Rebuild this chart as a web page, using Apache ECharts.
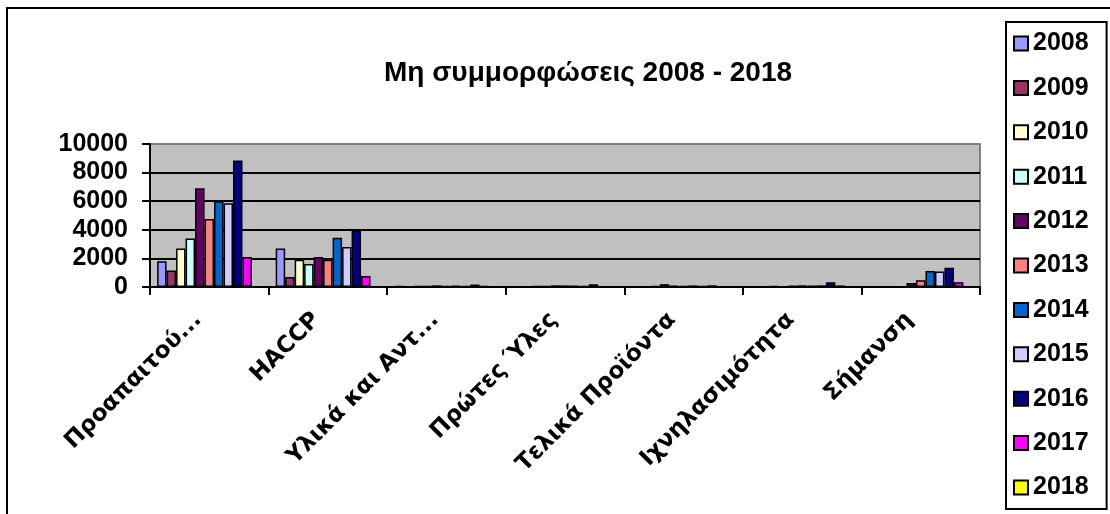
<!DOCTYPE html>
<html>
<head>
<meta charset="utf-8">
<script src="https://cdn.jsdelivr.net/npm/echarts@6/dist/echarts.min.js"></script>
<style>html,body{margin:0;padding:0;background:#fff;}#c{width:1110px;height:514px;}</style>
</head>
<body>
<div id="c"></div>
<script>
const titleText = 'Μη συμμορφώσεις 2008 - 2018';
const categories = ['Προαπαιτού...', 'HACCP', 'Υλικά και Αντ...', 'Πρώτες Ύλες', 'Τελικά Προϊόντα', 'Ιχνηλασιμότητα', 'Σήμανση'];
const years = ['2008','2009','2010','2011','2012','2013','2014','2015','2016','2017','2018'];
const v2008 = [1800, 2700, 60, 40, 50, 40, 0];
const v2009 = [1150, 700, 40, 30, 40, 50, 0];
const v2010 = [2700, 1900, 80, 60, 60, 60, 0];
const v2011 = [3400, 1600, 60, 80, 200, 50, 0];
const v2012 = [6900, 2100, 120, 120, 90, 100, 280];
const v2013 = [4750, 1900, 80, 110, 80, 120, 480];
const v2014 = [6000, 3450, 100, 100, 110, 90, 1120];
const v2015 = [5850, 2800, 80, 80, 70, 120, 1080];
const v2016 = [8850, 3950, 170, 190, 120, 330, 1350];
const v2017 = [2100, 770, 60, 50, 40, 110, 340];
const v2018 = [0, 0, 0, 0, 0, 0, 0];
const yTicks = [0, 2000, 4000, 6000, 8000, 10000];

const values = [v2008, v2009, v2010, v2011, v2012, v2013, v2014, v2015, v2016, v2017, v2018];
const colors = ['#9999FF','#993366','#FFFFCC','#CCFFFF','#660066','#FF8080','#0066CC','#CCCCFF','#000080','#FF00FF','#FFFF00'];
const FONT = "'Liberation Sans', Arial, sans-serif";
const FONT_X = "'DejaVu Sans', sans-serif";

const chart = echarts.init(document.getElementById('c'));
chart.setOption({
  animation: false,
  backgroundColor: '#ffffff',
  color: colors,
  graphic: [
    { type: 'rect', shape: { x: 7, y: 8, width: 1300, height: 700 }, style: { fill: 'none', stroke: '#000', lineWidth: 2 }, silent: true, z: 0 },
    { type: 'text', x: 588, y: 73, style: { text: titleText, textAlign: 'center', textVerticalAlign: 'middle', font: "bold 28px " + FONT, fill: '#000' }, z: 10 }
  ],
  legend: {
    orient: 'vertical',
    left: 1006,
    top: 22,
    height: 480,
    padding: [9, 18, 9, 7],
    itemWidth: 14,
    itemHeight: 14,
    itemGap: 19.4,
    borderColor: '#000',
    borderWidth: 2,
    backgroundColor: '#fff',
    icon: 'rect',
    textStyle: { fontFamily: FONT, fontWeight: 'bold', fontSize: 25, lineHeight: 25, color: '#000' },
    data: years
  },
  grid: {
    left: 150, right: 130, top: 144, bottom: 227,
    show: true, backgroundColor: '#C0C0C0', borderColor: '#808080', borderWidth: 2
  },
  xAxis: {
    type: 'category',
    data: categories,
    axisLine: { lineStyle: { color: '#000', width: 2 } },
    axisTick: { show: true, length: 8, lineStyle: { color: '#000', width: 2 } },
    axisLabel: { rotate: 45, margin: 18, padding: [0, 16, 0, 0], interval: 0, fontFamily: FONT_X, fontWeight: 'bold', fontSize: 23, color: '#000' },
    splitLine: { show: false }
  },
  yAxis: {
    type: 'value',
    min: yTicks[0], max: yTicks[yTicks.length - 1], interval: 2000,
    axisLine: { show: true, lineStyle: { color: '#000', width: 2 } },
    axisTick: { show: true, length: 8, lineStyle: { color: '#000', width: 2 } },
    axisLabel: { margin: 22, fontFamily: FONT, fontWeight: 'bold', fontSize: 25, color: '#000', formatter: v => String(v) },
    splitLine: { show: true, lineStyle: { color: ['#000','#000','#000','#000','#000','#808080'], width: 2 } }
  },
  series: years.map((y, i) => ({
    name: y,
    type: 'bar',
    data: values[i],
    barGap: '0%',
    barCategoryGap: '12%',
    itemStyle: { color: colors[i], borderColor: '#000', borderWidth: 1.5 }
  }))
});
</script>
</body>
</html>
